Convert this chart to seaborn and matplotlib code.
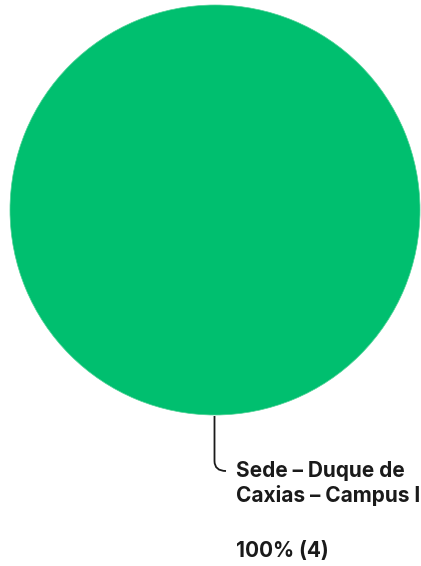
import matplotlib
matplotlib.use("Agg")
import matplotlib.pyplot as plt
from matplotlib.path import Path
from matplotlib.patches import PathPatch
import seaborn as sns

# Data
label_lines = ["Sede – Duque de", "Caxias – Campus I"]
counts = [4]
colors = ["#00BF6F"]

sns.set_theme(style="white")
plt.rcParams['font.family'] = ['Inter', 'DejaVu Sans']

W, H = 421, 566
fig = plt.figure(figsize=(W / 100, H / 100), dpi=100)

# pie axes: circle centre (215, 210), radius 205 px
cx, cy, r = 215, 210, 205
ax = fig.add_axes([(cx - r) / W, 1 - (cy + r) / H, 2 * r / W, 2 * r / H])
ax.pie(counts, colors=colors, startangle=90, counterclock=False,
       wedgeprops=dict(linewidth=0.5, edgecolor="#4fd396"))
ax.set_xlim(-1, 1)
ax.set_ylim(-1, 1)
ax.set_aspect("equal")

# overlay in pixel coords for label + leader
ov = fig.add_axes([0, 0, 1, 1])
ov.set_xlim(0, W)
ov.set_ylim(H, 0)
ov.axis("off")
verts = [(214.5, 416), (214.5, 461), (214.5, 471), (226, 471)]
codes = [Path.MOVETO, Path.LINETO, Path.CURVE3, Path.CURVE3]
ov.add_patch(PathPatch(Path(verts, codes), fill=False, lw=1.3, ec="#1a1a1a"))

total = sum(counts)
txt = dict(fontsize=15, fontweight="bold", color="#1a1a1a", va="baseline", ha="left")
for i, line in enumerate(label_lines):
    ov.text(236, 477 + 25 * i, line, **txt)
ov.text(236, 557, f"{counts[0] / total:.0%} ({counts[0]})", **txt)

fig.savefig("out.png", dpi=100)
